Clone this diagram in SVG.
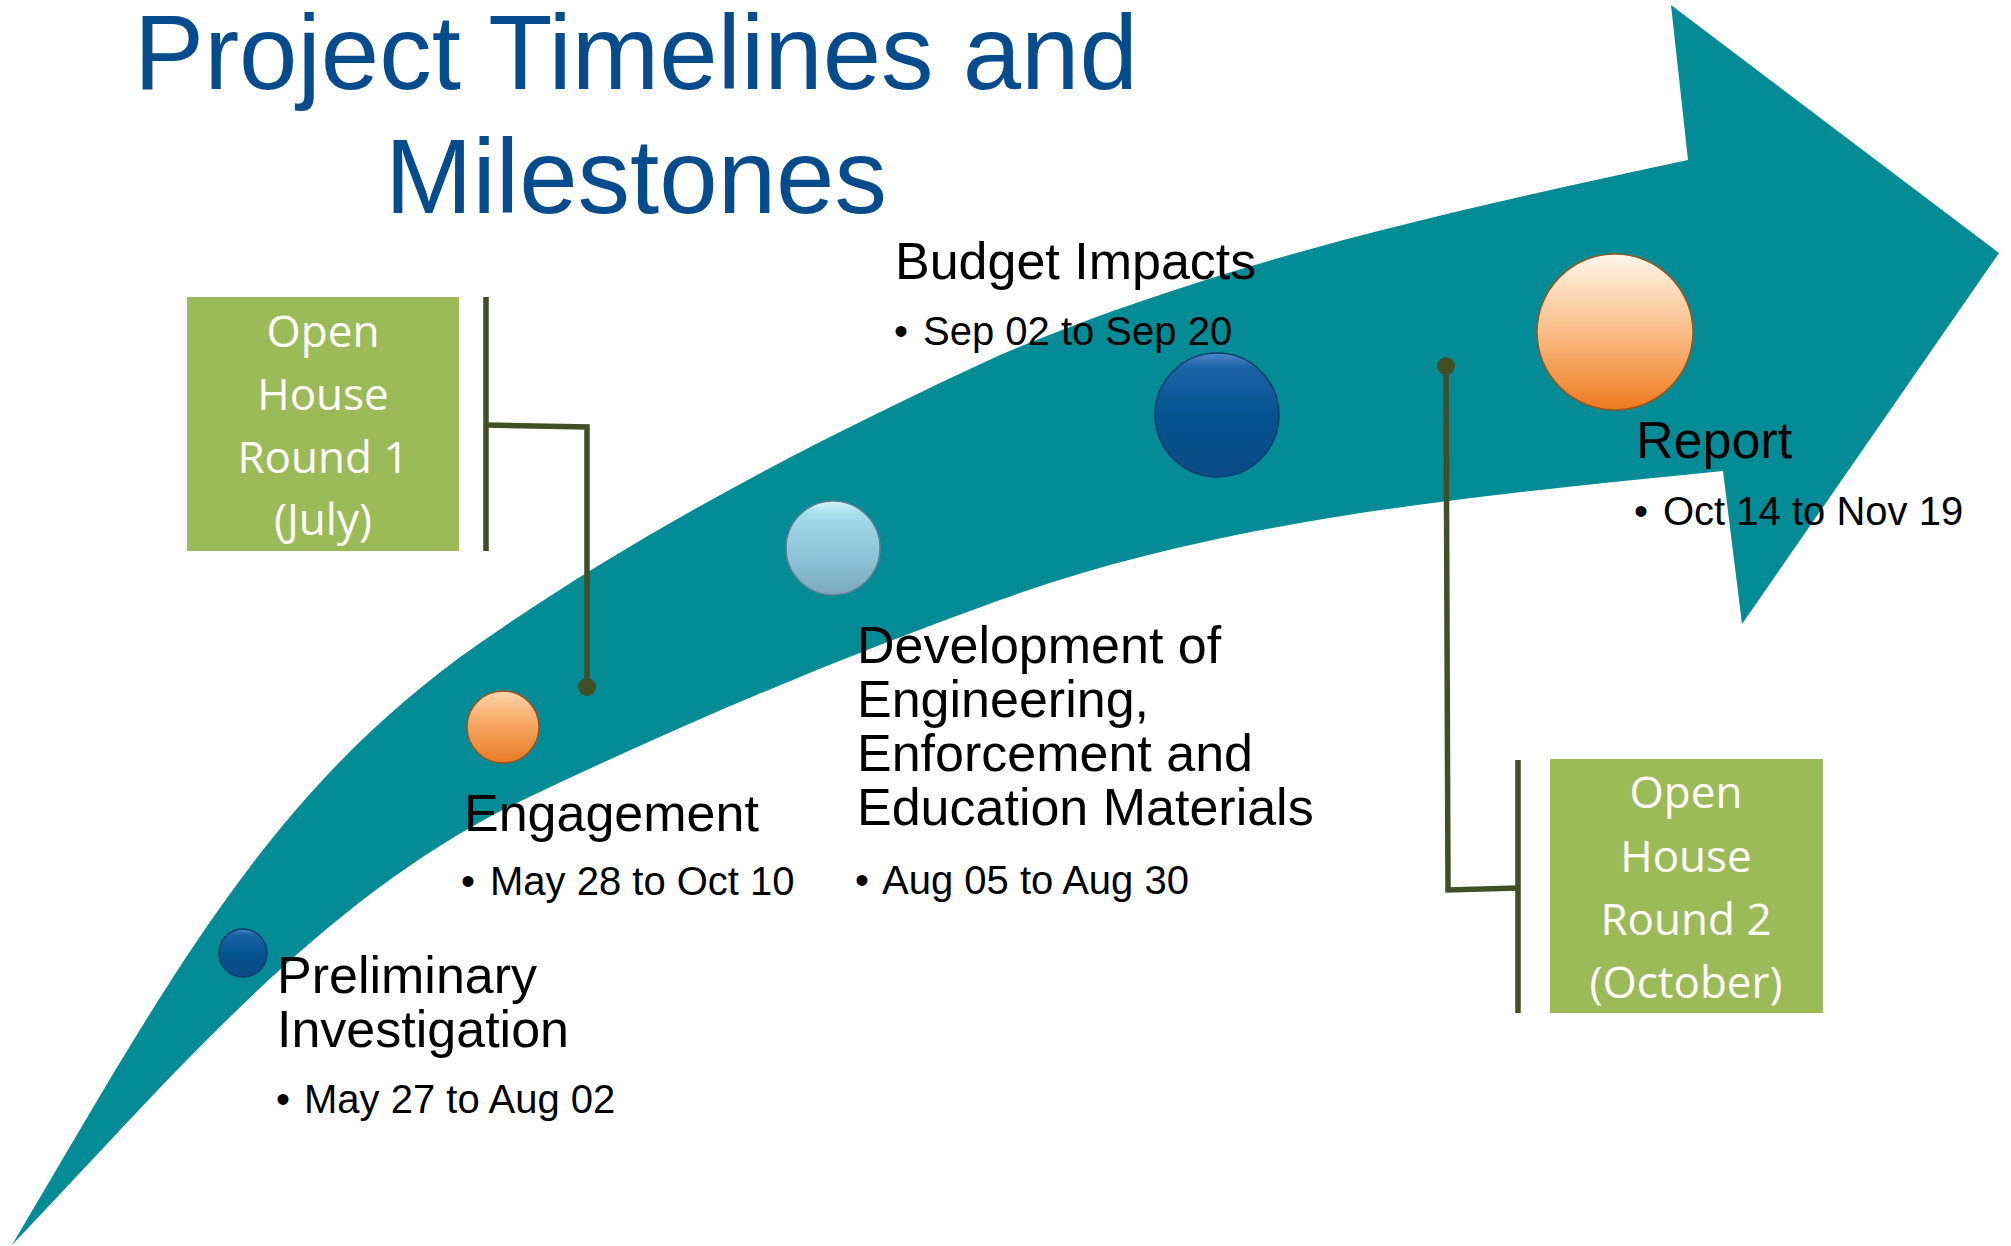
<svg xmlns="http://www.w3.org/2000/svg" width="2011" height="1246" viewBox="0 0 2011 1246">
<defs>
<style>
.title{font-family:"Liberation Sans",Arial,sans-serif;font-size:105px;fill:#064C8C;text-anchor:middle}
.head{font-family:"Liberation Sans",Arial,sans-serif;font-size:52px;fill:#000}
.date{font-family:"Liberation Sans",Arial,sans-serif;font-size:40px;fill:#000}
.box{fill:#9BBB59}
.boxt{font-family:"Open Sans","Noto Sans",sans-serif;font-size:44px;fill:#fff;text-anchor:middle}
.conn{fill:none;stroke:#414F24;stroke-width:5.5;stroke-linejoin:miter}
.dot{fill:#414F24}
</style>
<linearGradient id="gBlue" x1="0" y1="0" x2="0" y2="1">
<stop offset="0" stop-color="#4A88C8"/>
<stop offset="0.12" stop-color="#1C62A6"/>
<stop offset="0.5" stop-color="#04538F"/>
<stop offset="1" stop-color="#0A4B86"/>
</linearGradient>
<linearGradient id="gOrangeL" x1="0" y1="0" x2="0" y2="1">
<stop offset="0" stop-color="#FFF7EC"/>
<stop offset="0.18" stop-color="#FDE2C6"/>
<stop offset="0.55" stop-color="#F9B77C"/>
<stop offset="1" stop-color="#EE7A1E"/>
</linearGradient>
<linearGradient id="gOrange" x1="0" y1="0" x2="0" y2="1">
<stop offset="0" stop-color="#FCD6AA"/>
<stop offset="0.45" stop-color="#F7A762"/>
<stop offset="1" stop-color="#E97A25"/>
</linearGradient>
<linearGradient id="gLight" x1="0" y1="0" x2="0" y2="1">
<stop offset="0" stop-color="#D2F5FC"/>
<stop offset="0.15" stop-color="#A5DBEA"/>
<stop offset="0.6" stop-color="#8EC2D6"/>
<stop offset="1" stop-color="#7AA8BC"/>
</linearGradient>
</defs>
<rect width="2011" height="1246" fill="#fff"/>

<g id="arrow">
<path d="M12,1245 C165,987 267,791 480,643 C642,530 820,438 1000,355 C1219,262 1455,210 1688,160 L1671,5 L1999,253 L1742,624 L1723,471 C1479,496 1230,517 1000,600 C838,658 678,726 523,800 C320,897 168,1082 12,1245 Z" fill="#038B96"/>
</g>

<g id="title">
<text class="title" x="636" y="89">Project Timelines and</text>
<text class="title" x="636" y="213">Milestones</text>
</g>

<g id="connectors">
<line class="conn" x1="486" y1="297" x2="486" y2="551"/>
<path class="conn" d="M486,425 L587,427 L587,687"/>
<circle class="dot" cx="587" cy="687" r="9"/>
<circle class="dot" cx="1446" cy="366" r="9"/>
<path class="conn" d="M1446,366 L1448,890 L1518,888"/>
<line class="conn" x1="1518" y1="760" x2="1518" y2="1013"/>
</g>

<g id="open-house-1">
<rect class="box" x="187" y="297" width="272" height="254"/>
<text class="boxt" x="323" y="347">Open</text>
<text class="boxt" x="323" y="410">House</text>
<text class="boxt" x="323" y="473">Round 1</text>
<text class="boxt" x="323" y="535">(July)</text>
</g>

<g id="open-house-2">
<rect class="box" x="1550" y="759" width="273" height="254"/>
<text class="boxt" x="1686" y="808">Open</text>
<text class="boxt" x="1686" y="872">House</text>
<text class="boxt" x="1686" y="935">Round 2</text>
<text class="boxt" x="1686" y="998">(October)</text>
</g>

<g id="preliminary">
<circle cx="243" cy="953" r="24" fill="url(#gBlue)" stroke="#0B3E6E" stroke-width="1.5"/>
<text class="head" x="277" y="993">Preliminary</text>
<text class="head" x="277" y="1047">Investigation</text>
<text class="date" x="276" y="1113">•</text>
<text class="date" x="304" y="1113">May 27 to Aug 02</text>
</g>

<g id="engagement">
<circle cx="503" cy="727" r="36" fill="url(#gOrange)" stroke="#9A5420" stroke-width="1.5"/>
<text class="head" x="464" y="831">Engagement</text>
<text class="date" x="461" y="895">•</text>
<text class="date" x="490" y="895">May 28 to Oct 10</text>
</g>

<g id="development">
<circle cx="833" cy="548" r="47" fill="url(#gLight)" stroke="#5F7F8C" stroke-width="1.5"/>
<text class="head" x="857" y="663">Development of</text>
<text class="head" x="857" y="717">Engineering,</text>
<text class="head" x="857" y="771">Enforcement and</text>
<text class="head" x="857" y="825">Education Materials</text>
<text class="date" x="855" y="894">•</text>
<text class="date" x="882" y="894">Aug 05 to Aug 30</text>
</g>

<g id="budget">
<circle cx="1217" cy="415" r="62" fill="url(#gBlue)" stroke="#0B3E6E" stroke-width="1.5"/>
<text class="head" x="895" y="279">Budget Impacts</text>
<text class="date" x="894" y="345">•</text>
<text class="date" x="923" y="345">Sep 02 to Sep 20</text>
</g>

<g id="report">
<circle cx="1615" cy="332" r="78" fill="url(#gOrangeL)" stroke="#9A5420" stroke-width="1.5"/>
<text class="head" x="1636" y="458">Report</text>
<text class="date" x="1634" y="525">•</text>
<text class="date" x="1663" y="525">Oct 14 to Nov 19</text>
</g>
</svg>
